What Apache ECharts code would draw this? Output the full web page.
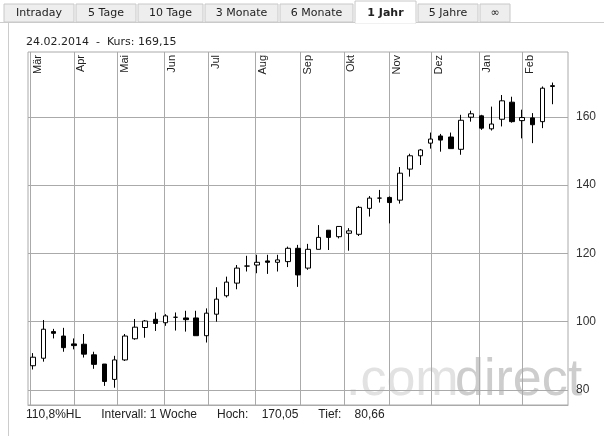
<!DOCTYPE html>
<html><head><meta charset="utf-8">
<script src="https://cdn.jsdelivr.net/npm/echarts@6/dist/echarts.min.js"></script>
<style>html,body{margin:0;padding:0;background:#fff}#c{width:604px;height:436px}</style>
</head><body><div id="c"></div>
<script>
// weekly candles: [open, close, low, high]
const opens  = [87.1,89.3,97.1,95.8,93.5,93.4,90.3,87.6,83.1,88.8,95.0,98.3,100.7,99.7,101.3,101.1,101.1,95.9,102.2,107.6,111.3,116.3,116.6,117.8,117.4,117.6,121.5,115.7,121.2,126.8,124.9,125.9,125.6,133.2,136.2,136.4,135.6,144.7,148.6,152.3,154.4,154.1,150.5,159.9,160.3,156.5,159.3,164.3,158.9,159.7,158.6,168.9];
const closes = [89.6,97.8,96.6,92.4,93.0,90.5,87.5,82.5,88.8,95.8,98.4,100.2,99.5,101.7,101.3,100.6,95.9,102.5,106.6,111.6,115.7,116.3,117.4,117.4,118.1,121.5,113.7,121.2,124.7,124.7,127.9,126.6,133.5,136.2,136.2,134.9,143.5,148.6,150.3,153.5,153.2,150.7,159.0,160.9,156.7,157.9,164.7,158.6,159.8,157.7,168.4,169.15];
const lows   = [86.0,88.3,95.1,91.2,91.9,89.5,86.2,81.2,80.66,88.5,94.7,95.3,97.3,98.8,97.4,97.1,95.9,93.9,100.0,107.1,109.5,114.7,114.2,114.0,114.7,116.0,110.2,115.2,121.2,121.0,124.4,120.8,125.1,130.8,134.9,128.8,134.6,142.5,145.9,150.7,149.8,150.7,148.9,158.6,156.2,156.0,157.2,158.3,153.7,152.3,156.7,163.7];
const highs  = [90.8,100.5,97.9,98.2,95.1,96.4,91.2,87.6,90.0,96.4,100.8,100.5,102.7,102.2,102.7,103.2,103.2,103.9,110.1,113.2,116.6,119.3,119.6,119.6,119.6,122.0,122.5,122.8,128.3,126.8,127.8,127.4,133.9,136.8,138.6,136.7,145.3,149.2,150.6,155.4,155.0,155.4,160.6,161.8,160.6,163.0,166.4,165.9,162.1,161.1,168.9,170.05];
const monthLabels = ['Mär','Apr','Mai','Jun','Jul','Aug','Sep','Okt','Nov','Dez','Jan','Feb'];
const monthPos = [0.2,4.5,8.8,13.4,17.7,22.3,26.7,31.0,35.5,39.6,44.3,48.5];
const yTicks = [80,100,120,140,160];
const tabs = ['Intraday','5 Tage','10 Tage','3 Monate','6 Monate','1 Jahr','5 Jahre','∞'];
const tabX = [4,76,138,205,280,355,418,480];
const tabW = [70,60,65,73,73,61,60,30];

const weeks = opens.map((_, i) => 'W' + (i + 1));
weeks.push('');
const candles = opens.map((o, i) => [o, closes[i], lows[i], highs[i]]);

const graphics = [];
graphics.push({type:'line',shape:{x1:0,y1:22.5,x2:604,y2:22.5},style:{stroke:'#ccc',lineWidth:1}});
tabs.forEach((t, i) => {
  const active = i === 5;
  graphics.push({type:'rect',shape:{x:tabX[i],y:active?1:4,width:tabW[i],height:active?22:18},
    style:{fill:active?'#fff':'#eeeeee',stroke:'#c8c8c8',lineWidth:1},z:1});
  graphics.push({type:'text',x:tabX[i]+tabW[i]/2,y:13,z:2,style:{text:t,align:'center',verticalAlign:'middle',
    font:(active?'bold ':'')+'11px "DejaVu Sans"',fill:'#222'}});
});
graphics.push({type:'line',shape:{x1:355.5,y1:22.5,x2:415.5,y2:22.5},style:{stroke:'#fff',lineWidth:2},z:3});
graphics.push({type:'line',shape:{x1:8.5,y1:23,x2:8.5,y2:436},style:{stroke:'#ccc',lineWidth:1}});
graphics.push({type:'text',x:26,y:42,style:{text:'24.02.2014  -  Kurs: 169,15',verticalAlign:'middle',font:'11px "DejaVu Sans"',fill:'#222'}});
graphics.push({type:'text',x:26,y:415,style:{text:'110,8%HL      Intervall: 1 Woche      Hoch:    170,05      Tief:    80,66',
  verticalAlign:'middle',font:'12px "Liberation Sans"',fill:'#222'}});
graphics.push({type:'text',x:346,y:381,z:0,style:{text:'.com',verticalAlign:'middle',font:'52px "Liberation Sans"',fill:'#e2e2e2'}});
graphics.push({type:'text',x:455,y:381,z:0,style:{text:'direct',verticalAlign:'middle',font:'52px "Liberation Sans"',fill:'#cdcdcd'}});

const chart = echarts.init(document.getElementById('c'));
chart.setOption({
  animation:false,
  graphic: graphics,
  grid:{left:28,right:36,top:52,bottom:31,show:true,borderColor:'#aaa',borderWidth:1},
  xAxis:[
    {type:'category',data:weeks,boundaryGap:true,axisLine:{show:true,lineStyle:{color:'#aaa'}},axisTick:{show:false},axisLabel:{show:false},splitLine:{show:false}},
    {type:'value',min:0,max:53,show:false,splitLine:{show:false}}
  ],
  yAxis:{type:'value',min:75.6,max:179,position:'right',
    axisLine:{show:false},
    axisTick:{show:false,customValues:yTicks},
    axisLabel:{customValues:yTicks,color:'#333',fontSize:12,fontFamily:'Liberation Sans',margin:8},
    splitLine:{show:true,lineStyle:{color:'#aaa',width:1}}},
  series:[
    {type:'candlestick',data:candles,barWidth:5,xAxisIndex:0,z:5,
      itemStyle:{color:'#fff',color0:'#000',borderColor:'#000',borderColor0:'#000',borderWidth:1}},
    {type:'line',xAxisIndex:1,data:[],silent:true,
      markLine:{symbol:'none',silent:true,animation:false,
        lineStyle:{color:'#aaa',type:'solid',width:1},
        label:{show:true,position:'insideEndBottom',formatter:p=>p.name,color:'#222',fontSize:11,fontFamily:'Liberation Sans',distance:[3,2]},
        data:monthPos.map((v,i)=>({xAxis:v,name:monthLabels[i]}))}}
  ]
});
</script></body></html>
